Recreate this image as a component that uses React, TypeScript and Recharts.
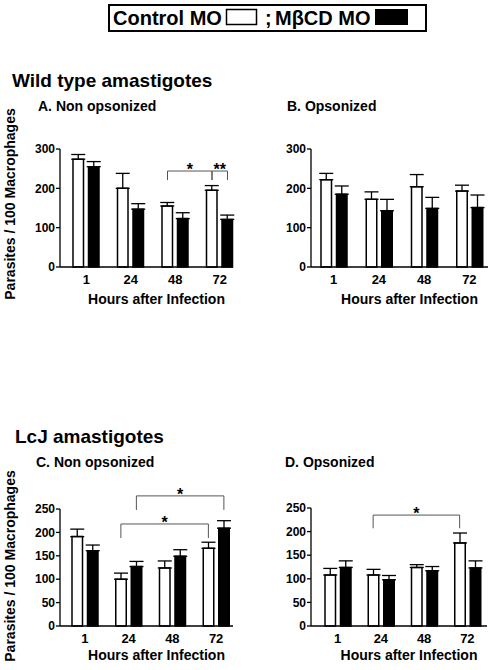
import React from "react";
import {
  BarChart,
  Bar,
  XAxis,
  YAxis,
  ErrorBar,
  ReferenceLine,
} from "recharts";

const FONT = '"Liberation Sans", Arial, sans-serif';

// x categories (hours after infection)
const hours = ["1", "24", "48", "72"];

// A. wild type, non opsonized
const wtNonOpsControl = [274, 200, 155, 195];
const wtNonOpsControlSem = [12, 38, 9, 12];
const wtNonOpsMbcd = [255, 147, 123, 121];
const wtNonOpsMbcdSem = [13, 14, 15, 11];

// B. wild type, opsonized
const wtOpsControl = [222, 172, 204, 193];
const wtOpsControlSem = [16, 19, 31, 15];
const wtOpsMbcd = [185, 143, 149, 151];
const wtOpsMbcdSem = [21, 29, 28, 32];

// C. LcJ, non opsonized
const lcjNonOpsControl = [191, 100, 124, 166];
const lcjNonOpsControlSem = [16, 13, 15, 13];
const lcjNonOpsMbcd = [161, 127, 149, 209];
const lcjNonOpsMbcdSem = [12, 11, 14, 16];

// D. LcJ, opsonized
const lcjOpsControl = [108, 108, 124, 176];
const lcjOpsControlSem = [14, 12, 6, 21];
const lcjOpsMbcd = [124, 98, 117, 123];
const lcjOpsMbcdSem = [14, 9, 9, 15];

const ticks300 = [0, 100, 200, 300];
const ticks250 = [0, 50, 100, 150, 200, 250];

// significance brackets: from/to bar, bracket height, end of the drop lines
const wtNonOpsBrackets = [
  { from: "48", fromSeries: "control", to: "72", toSeries: "control", y: 244, end: 221, label: "*" },
  { from: "72", fromSeries: "control", to: "72", toSeries: "mbcd", y: 244, end: 221, label: "**" },
];
const lcjNonOpsBrackets = [
  { from: "24", fromSeries: "mbcd", to: "72", toSeries: "mbcd", y: 278, end: 248, label: "*" },
  { from: "24", fromSeries: "control", to: "72", toSeries: "control", y: 218, end: 188, label: "*" },
];
const lcjOpsBrackets = [
  { from: "24", fromSeries: "control", to: "72", toSeries: "control", y: 235, end: 207, label: "*" },
];

const BAR_SIZE = 10.5;
const BAR_GAP = 5;
const seriesOffset = (s: string) => (s === "control" ? -1 : 1) * (BAR_SIZE + BAR_GAP) / 2;

const buildRows = (c: number[], cs: number[], m: number[], ms: number[]) =>
  hours.map((h, i) => ({
    hour: h,
    control: c[i],
    controlErr: [0, cs[i]],
    mbcd: m[i],
    mbcdErr: [0, ms[i]],
  }));

const bracketLines = (brackets: any[], key: string) =>
  brackets.flatMap((b, i) => {
    const dxA = seriesOffset(b.fromSeries);
    const dxB = seriesOffset(b.toSeries);
    const vert = (dx: number) => (p: any) => (
      <line x1={p.x1 + dx} y1={p.y1} x2={p.x2 + dx} y2={p.y2} stroke="#555" strokeWidth={1} />
    );
    const horiz = (p: any) => (
      <g>
        <line x1={p.x1 + dxA} y1={p.y1} x2={p.x2 + dxB} y2={p.y2} stroke="#555" strokeWidth={1} />
        <text
          x={(p.x1 + dxA + p.x2 + dxB) / 2}
          y={p.y1 + 4}
          textAnchor="middle"
          fontSize={16}
          fontWeight="bold"
          fontFamily={FONT}
          fill="#000"
        >
          {b.label}
        </text>
      </g>
    );
    return [
      <ReferenceLine
        key={`${key}-h${i}`}
        segment={[{ x: b.from, y: b.y }, { x: b.to, y: b.y }]}
        ifOverflow="visible"
        shape={horiz}
      />,
      <ReferenceLine
        key={`${key}-l${i}`}
        segment={[{ x: b.from, y: b.end }, { x: b.from, y: b.y }]}
        ifOverflow="visible"
        shape={vert(dxA)}
      />,
      <ReferenceLine
        key={`${key}-r${i}`}
        segment={[{ x: b.to, y: b.end }, { x: b.to, y: b.y }]}
        ifOverflow="visible"
        shape={vert(dxB)}
      />,
    ];
  });

const Panel = ({ id, data, yMax, ticks, brackets, left, top, width, height, margin, padding, xAxisHeight, labelOffset }: any) => (
  <div style={{ position: "absolute", left, top, width, height }}>
    <BarChart width={width} height={height} data={data} margin={margin} barSize={BAR_SIZE} barGap={BAR_GAP}>
      <XAxis
        dataKey="hour"
        height={xAxisHeight}
        padding={padding}
        tickLine={false}
        tickSize={5}
        tickMargin={3}
        axisLine={{ stroke: "#000", strokeWidth: 1.3 }}
        tick={{ fill: "#000", fontSize: 13, fontWeight: "bold", fontFamily: FONT }}
        label={{
          value: "Hours after Infection",
          position: "insideBottom",
          offset: labelOffset,
          dx: 10,
          fill: "#000",
          fontSize: 14,
          fontWeight: "bold",
          fontFamily: FONT,
        }}
      />
      <YAxis
        width={40}
        domain={[0, yMax]}
        ticks={ticks}
        interval={0}
        tickSize={4}
        tickMargin={1}
        axisLine={{ stroke: "#000", strokeWidth: 1.3 }}
        tickLine={{ stroke: "#000", strokeWidth: 1.3 }}
        tick={{ fill: "#000", fontSize: 12, fontWeight: "bold", fontFamily: FONT }}
      />
      <Bar dataKey="control" fill="#fff" stroke="#000" strokeWidth={1.5} isAnimationActive={false}>
        <ErrorBar dataKey="controlErr" width={7} stroke="#000" strokeWidth={1.3} direction="y" />
      </Bar>
      <Bar dataKey="mbcd" fill="#000" stroke="#000" strokeWidth={1.5} isAnimationActive={false}>
        <ErrorBar dataKey="mbcdErr" width={7} stroke="#000" strokeWidth={1.3} direction="y" />
      </Bar>
      {bracketLines(brackets, id)}
    </BarChart>
  </div>
);

const Texts = () => (
  <svg width={498} height={670} style={{ position: "absolute", left: 0, top: 0 }} fontFamily={FONT} fontWeight="bold" fill="#000">
    <rect x={109} y={5} width={317} height={26} fill="#fff" stroke="#000" strokeWidth={2} />
    <text x={113} y={25} fontSize={20}>Control MO</text>
    <rect x={226.5} y={9.5} width={30} height={15} fill="#fff" stroke="#000" strokeWidth={1.5} />
    <text x={265} y={25} fontSize={20}>;</text>
    <text x={275} y={25} fontSize={20}>MβCD MO</text>
    <rect x={375} y={9} width={33} height={16} fill="#000" />

    <text x={12} y={87} fontSize={19}>Wild type amastigotes</text>
    <text x={38} y={111} fontSize={14}>A. Non opsonized</text>
    <text x={287} y={111} fontSize={14}>B. Opsonized</text>

    <text x={15} y={443} fontSize={19}>LcJ amastigotes</text>
    <text x={36} y={467} fontSize={14}>C. Non opsonized</text>
    <text x={285} y={467} fontSize={14}>D. Opsonized</text>

    <text x={15} y={204} fontSize={14} textAnchor="middle" transform="rotate(-90 15 204)">
      Parasites / 100 Macrophages
    </text>
    <text x={15} y={566} fontSize={14} textAnchor="middle" transform="rotate(-90 15 566)">
      Parasites / 100 Macrophages
    </text>
  </svg>
);

export default function App() {
  return (
    <div style={{ position: "absolute", left: 0, top: 0, width: 498, height: 670, background: "#fff", fontFamily: FONT }}>
      <Texts />
      <Panel
        id="a"
        data={buildRows(wtNonOpsControl, wtNonOpsControlSem, wtNonOpsMbcd, wtNonOpsMbcdSem)}
        yMax={300}
        ticks={ticks300}
        brackets={wtNonOpsBrackets}
        left={0}
        top={120}
        width={250}
        height={190}
        margin={{ top: 29, right: 17, bottom: 0, left: 20 }}
        padding={{ left: 4, right: -9 }}
        xAxisHeight={43}
        labelOffset={6}
      />
      <Panel
        id="b"
        data={buildRows(wtOpsControl, wtOpsControlSem, wtOpsMbcd, wtOpsMbcdSem)}
        yMax={300}
        ticks={ticks300}
        brackets={[]}
        left={250}
        top={120}
        width={248}
        height={190}
        margin={{ top: 29, right: 10, bottom: 0, left: 21 }}
        padding={{ left: 0, right: -4 }}
        xAxisHeight={43}
        labelOffset={6}
      />
      <Panel
        id="c"
        data={buildRows(lcjNonOpsControl, lcjNonOpsControlSem, lcjNonOpsMbcd, lcjNonOpsMbcdSem)}
        yMax={250}
        ticks={ticks250}
        brackets={lcjNonOpsBrackets}
        left={0}
        top={480}
        width={250}
        height={190}
        margin={{ top: 29, right: 17, bottom: 0, left: 20 }}
        padding={{ left: 3, right: -5 }}
        xAxisHeight={44}
        labelOffset={10}
      />
      <Panel
        id="d"
        data={buildRows(lcjOpsControl, lcjOpsControlSem, lcjOpsMbcd, lcjOpsMbcdSem)}
        yMax={250}
        ticks={ticks250}
        brackets={lcjOpsBrackets}
        left={250}
        top={480}
        width={248}
        height={190}
        margin={{ top: 28, right: 11, bottom: 0, left: 21 }}
        padding={{ left: 5, right: -2 }}
        xAxisHeight={44}
        labelOffset={10}
      />
    </div>
  );
}
